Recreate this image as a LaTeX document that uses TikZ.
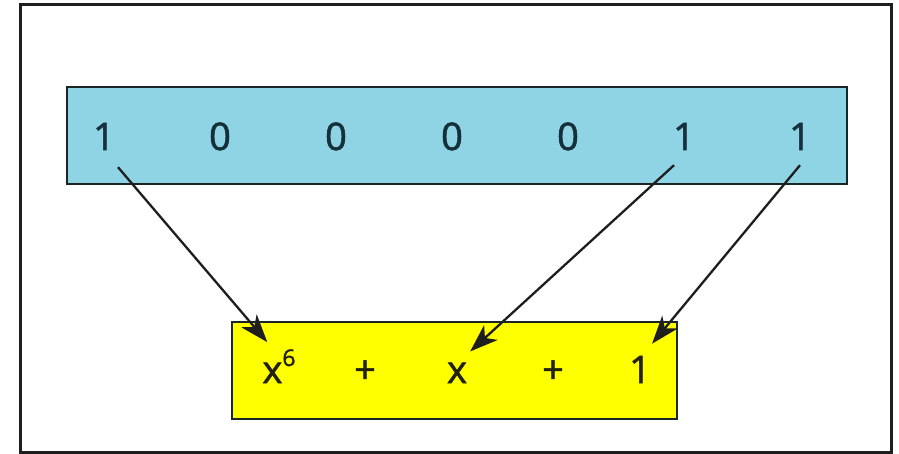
\documentclass[tikz,border=0pt]{standalone}
\usepackage{fontspec}
\setmainfont{Open Sans}
\newfontfamily\labelfont{Open Sans}[FakeBold=1.6]
\usetikzlibrary{arrows.meta,calc,positioning}
\definecolor{Frame}{HTML}{1E1E1E}
\definecolor{Edge}{HTML}{1A2626}
\definecolor{Bits}{HTML}{8ED4E4}
\definecolor{BitInk}{HTML}{15303A}
\definecolor{Poly}{HTML}{FFFF00}
\definecolor{PolyInk}{HTML}{22220A}
\begin{document}
\begin{tikzpicture}[
  x=1pt,y=-1pt,
  every node/.style={inner sep=0pt,anchor=base},
  bit/.style={font=\labelfont\fontsize{38}{38}\selectfont,text=BitInk},
  term/.style={font=\labelfont\fontsize{38}{38}\selectfont,text=PolyInk},
  panel/.style={draw=Edge,line width=2.8pt},
  arr/.style={-{Stealth[length=28pt,width=20pt,inset=8pt]},line width=2.3pt,Frame}
]
  \useasboundingbox (0,0) rectangle (899,454);
  \draw[Frame,line width=3pt] (20,5) rectangle (891,452);
  % codeword
  \draw[panel,fill=Bits] (67,87) rectangle (847,184);
  \node[bit] (d1) at (104,150) {1};
  \node[bit] (d2) at (220,150) {0};
  \node[bit] (d3) at (336,150) {0};
  \node[bit] (d4) at (452,150) {0};
  \node[bit] (d5) at (568,150) {0};
  \node[bit] (d6) at (684,150) {1};
  \node[bit] (d7) at (800,150) {1};
  % polynomial
  \draw[panel,fill=Poly] (232,322) rectangle (677,419);
  \node[term] (t6) at (279,383) {x\raisebox{17pt}{\fontsize{23}{23}\selectfont 6}};
  \node[term] (p1) at (365,383) {+};
  \node[term] (t1) at (457,383) {x};
  \node[term] (p2) at (553,383) {+};
  \node[term] (t0) at (640,383) {1};
  \draw[arr] ([shift={(14,17)}]d1.south) -- ([shift={(5,-7)}]t6.north west);
  \draw[arr] ([shift={(-10,15)}]d6.south) -- ([shift={(3,-11)}]t1.north east);
  \draw[arr] ([shift={(0,15)}]d7.south) -- ([shift={(1,-12)}]t0.north east);
\end{tikzpicture}
\end{document}
